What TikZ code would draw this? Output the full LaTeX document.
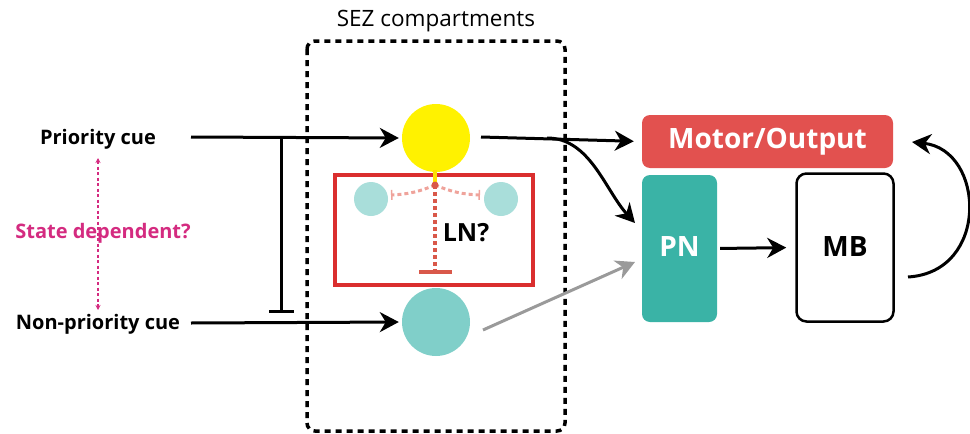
\documentclass[tikz,border=0pt]{standalone}
\usepackage{fontspec}
\setmainfont{Open Sans}
\newfontfamily\lightfont{Open Sans}
\usetikzlibrary{arrows.meta}
\definecolor{motorred}{HTML}{E2514F}
\definecolor{pnteal}{HTML}{3AB3A6}
\definecolor{cueteal}{HTML}{80CFC9}
\definecolor{ltteal}{HTML}{A9DEDA}
\definecolor{boxred}{HTML}{DA2E2E}
\definecolor{dotred}{HTML}{D9584A}
\definecolor{dotpink}{HTML}{EFA39B}
\definecolor{statemag}{HTML}{D42B80}
\definecolor{cuegrey}{HTML}{9A9A9A}
\tikzset{
  lbl/.style={font=\fontsize{20}{20}\selectfont\bfseries},
  boxlbl/.style={font=\fontsize{28}{28}\selectfont\bfseries},
  arr/.style={line width=3pt,-{Stealth[length=19pt,width=20pt,inset=6pt]}},
  inh/.style={line width=3pt,-{Bar[width=25pt]}},
  disc/.style={circle,inner sep=0pt},
}
\begin{document}
\begin{tikzpicture}[x=1pt,y=-1pt]
\useasboundingbox (0,0) rectangle (970,434);
% SEZ dashed box
\draw[line width=3.5pt,dash pattern=on 6pt off 5pt,rounded corners=8pt] (307,41) rectangle (565,431);
\node[font=\lightfont\fontsize{22.5}{22.5}\selectfont] (sez) at (436,21) {SEZ compartments};
% left labels
\node[lbl] (pc) at (98,139) {Priority cue};
\node[lbl] (npc) at (98,324) {Non-priority cue};
\node[lbl,text=statemag] (sd) at (103,233) {State dependent?};
\coordinate (sdt) at (98,158);
\coordinate (sdb) at (98,310);
\draw[statemag,line width=1.2pt,dash pattern=on 3pt off 2.5pt,{Stealth[length=5pt,width=5pt]}-{Stealth[length=5pt,width=5pt]}] (sdt) -- (sdb);
% LN box
\node[draw=boxred,line width=4.5pt,minimum width=198pt,minimum height=110pt,inner sep=0pt] (ln) at (434,230) {};
\node[font=\fontsize{25}{25}\selectfont\bfseries] (lnt) at (466,233) {LN?};
% circles
\node[disc,fill=yellow,minimum size=68pt] (yc) at (436,138) {};
\node[disc,fill=cueteal,minimum size=68pt] (tc) at (436,322) {};
\node[disc,fill=ltteal,minimum size=34pt] (s1) at (371,199) {};
\node[disc,fill=ltteal,minimum size=34pt] (s2) at (501,199) {};
\coordinate (j) at (435,185);
\coordinate (jb) at (435,274);
\coordinate (e1) at (391,195);
\coordinate (e2) at (480,195);
\draw[dotpink,line width=3pt,dash pattern=on 4pt off 3pt,-{Bar[width=10pt,line width=1.5pt]}] (j) to[bend left=10] (e1);
\draw[dotpink,line width=3pt,dash pattern=on 4pt off 3pt,-{Bar[width=10pt,line width=1.5pt]}] (j) to[bend right=10] (e2);
\draw[dotred,line width=4pt,dash pattern=on 4pt off 3pt,-{Bar[width=33pt,line width=4pt]}] (j) -- (jb);
\fill[yellow!85!orange] (433,170) rectangle (437,182);
\fill[dotred] (j) circle (3.5pt);
% right boxes
\node[fill=motorred,rounded corners=8pt,minimum width=251pt,minimum height=53pt,text=white,boxlbl] (mo) at (767.5,141.5) {Motor/Output};
\node[fill=pnteal,rounded corners=8pt,minimum width=75pt,minimum height=147pt,text=white,boxlbl] (pn) at (679.5,248.5) {\raisebox{3pt}{PN}};
\node[draw,line width=2.5pt,rounded corners=10pt,minimum width=97pt,minimum height=148pt,boxlbl] (mb) at (845,247.5) {\raisebox{2pt}{MB}};
% arrows
\coordinate (pcs) at (191,137);
\coordinate (npcs) at (191,323);
\coordinate (ib) at (281,137);
\coordinate (ie) at (281,313);
\draw[arr,shorten >=3pt] (pcs) -- (yc.west);
\draw[arr,shorten >=3pt] (npcs) -- (tc.west);
\draw[inh] (ib) -- (ie);
\coordinate (ys) at (481,137);
\coordinate (br) at (547,138);
\coordinate (pnin) at (635,223);
\coordinate (gs) at (483,330);
\coordinate (gt) at (635,262);
\draw[arr,shorten >=8pt] (ys) -- (mo.west);
\draw[arr] (br) .. controls (590,138) and (605,190) .. (pnin);
\draw[arr,cuegrey] (gs) -- (gt);
\draw[arr,shorten <=3pt,shorten >=9pt] (pn.east) -- (mb.west);
\coordinate (ms) at (908,277);
\coordinate (mt) at (912,142);
\draw[arr] (ms) .. controls (990,272) and (985,150) .. (mt);
\end{tikzpicture}
\end{document}
